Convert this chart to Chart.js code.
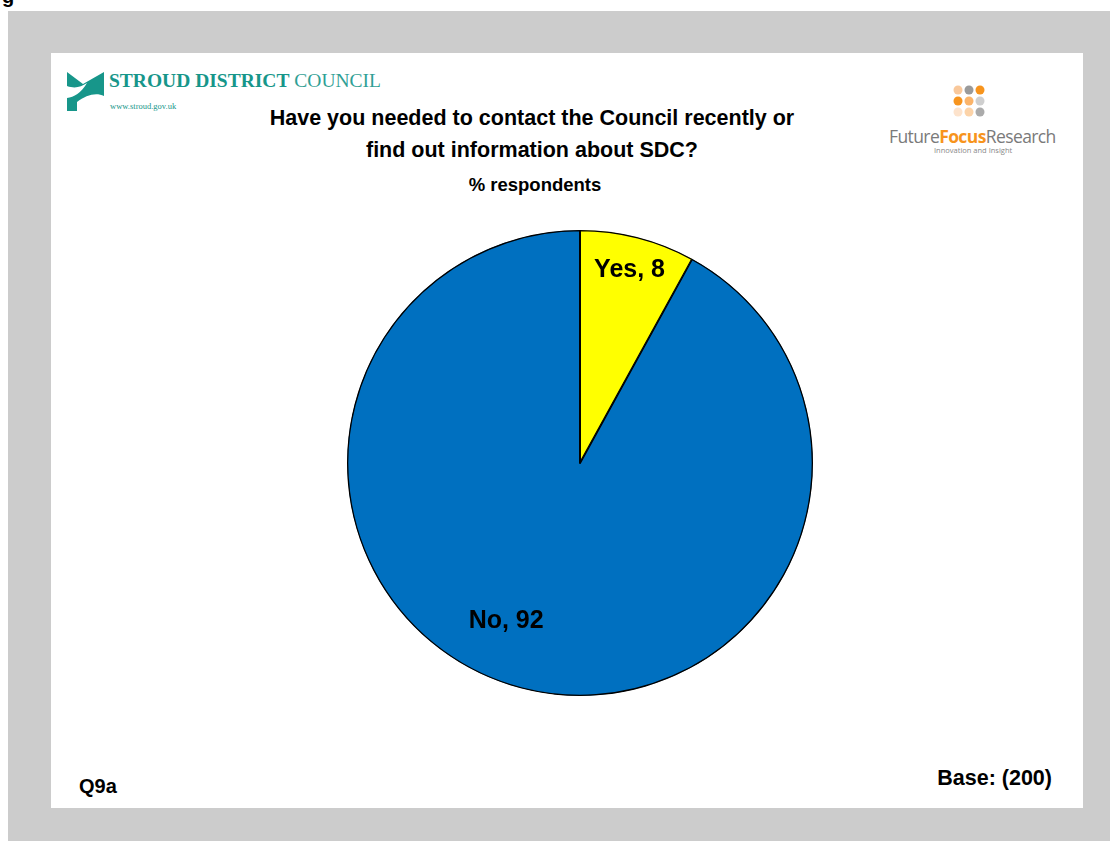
<!DOCTYPE html>
<html>
<head>
<meta charset="utf-8">
<script src="https://cdn.jsdelivr.net/npm/chart.js@4"></script>
<style>
  html, body { margin: 0; padding: 0; background: #fff; }
  body { width: 1110px; height: 841px; position: relative; overflow: hidden; font-family: "Liberation Sans", Arial, sans-serif; }
  #frame { position: absolute; left: 8px; top: 11px; right: 0; bottom: 0; background: #cccccc; }
  #panel { position: absolute; left: 51px; top: 53px; width: 1032px; height: 755px; background: #fff; }
  .abs { position: absolute; white-space: nowrap; }
  #title { left: 0; width: 1064px; top: 102px; text-align: center; font-weight: bold; font-size: 21.5px; line-height: 32px; color: #000; }
  #sub { left: 0; width: 1070px; top: 174px; text-align: center; font-weight: bold; font-size: 18.5px; color: #000; }
  #q { left: 79px; top: 775px; font-weight: bold; font-size: 20px; }
  #base { right: 58px; top: 766px; font-weight: bold; font-size: 21.5px; }
  #chartBox { position: absolute; left: 340px; top: 223px; width: 480px; height: 480px; }
  .sdc { font-family: "Liberation Serif", "DejaVu Serif", serif; color: #17968a; }
  #ffr { left: 889px; top: 124px; font-family: "Open Sans", "Liberation Sans", sans-serif; font-size: 17.5px; color: #7a7a7a; letter-spacing: -0.6px; }
  #ffr b { color: #f7941d; }
  #ffr2 { left: 934px; top: 145px; font-family: "Open Sans", sans-serif; font-size: 7.5px; color: #888; }
</style>
</head>
<body>
<div class="abs" style="left:2px;top:-15px;font-weight:bold;font-size:20px;">g</div>
<div id="frame"></div>
<div id="panel"></div>

<!-- Stroud District Council logo -->
<svg class="abs" style="left:66px;top:71px" width="40" height="42" viewBox="0 0 40 42">
  <path d="M1 1 L17 13 L38 1 L38 25 C30 21 20 24 11 31 L11 40 L1 40 Z" fill="#17968a"/>
  <path d="M1 15 C9 18 15 16 21 12 C15 22 8 26 1 27 Z" fill="#fff"/>
</svg>
<div class="abs sdc" style="left:109px;top:70px;font-size:19.5px;"><b>STROUD DISTRICT</b> <span style="opacity:.9">COUNCIL</span></div>
<div class="abs sdc" style="left:110px;top:101px;font-size:8.5px;">www.stroud.gov.uk</div>

<!-- Future Focus Research logo -->
<svg class="abs" style="left:952px;top:84px" width="40" height="36">
  <circle cx="6" cy="6" r="4.5" fill="#f9c89b"/>
  <circle cx="17" cy="6" r="4.5" fill="#9a9a9a"/>
  <circle cx="28" cy="6" r="4.5" fill="#f7941d"/>
  <circle cx="6" cy="17" r="4.5" fill="#f7941d"/>
  <circle cx="17" cy="17" r="4.5" fill="#fbb46a"/>
  <circle cx="28" cy="17" r="4.5" fill="#cfcfcf"/>
  <circle cx="6" cy="28" r="4.5" fill="#fde3cc"/>
  <circle cx="17" cy="28" r="4.5" fill="#fcd3a8"/>
  <circle cx="28" cy="28" r="4.5" fill="#ababab"/>
</svg>
<div id="ffr" class="abs">Future<b>Focus</b>Research</div>
<div id="ffr2" class="abs">Innovation and Insight</div>

<div id="title" class="abs">Have you needed to contact the Council recently or<br>find out information about SDC?</div>
<div id="sub" class="abs">% respondents</div>
<div id="q" class="abs">Q9a</div>
<div id="base" class="abs">Base: (200)</div>

<div id="chartBox"><canvas id="pie"></canvas></div>

<script>
const labels = ["Yes", "No"];
const values = [8, 92];
const colors = ["#ffff00", "#0070c0"];
// where each label sits: share of the radius, and turn away from the slice middle (degrees)
const labelRadius = [0.855, 0.75];
const labelTurn = [0, 10.6];

const sliceLabels = {
  id: 'sliceLabels',
  afterDatasetsDraw(chart) {
    const ctx = chart.ctx;
    const meta = chart.getDatasetMeta(0);
    ctx.save();
    ctx.font = 'bold 25px "Liberation Sans", Arial, sans-serif';
    ctx.fillStyle = '#000';
    ctx.textAlign = 'center';
    ctx.textBaseline = 'middle';
    meta.data.forEach((arc, i) => {
      const p = arc.getProps(['x', 'y', 'startAngle', 'endAngle', 'outerRadius'], true);
      const a = (p.startAngle + p.endAngle) / 2 + labelTurn[i] * Math.PI / 180;
      const r = p.outerRadius * labelRadius[i];
      ctx.fillText(labels[i] + ', ' + values[i], p.x + Math.cos(a) * r, p.y + Math.sin(a) * r);
    });
    ctx.restore();
  }
};

new Chart(document.getElementById('pie'), {
  type: 'pie',
  data: {
    labels: labels,
    datasets: [{
      data: values,
      backgroundColor: colors,
      borderColor: '#000',
      borderWidth: 1,
      borderAlign: 'inner'
    }]
  },
  options: {
    responsive: true,
    maintainAspectRatio: false,
    animation: false,
    layout: { padding: 7 },
    plugins: {
      legend: { display: false },
      tooltip: { enabled: false }
    }
  },
  plugins: [sliceLabels]
});
</script>
</body>
</html>
